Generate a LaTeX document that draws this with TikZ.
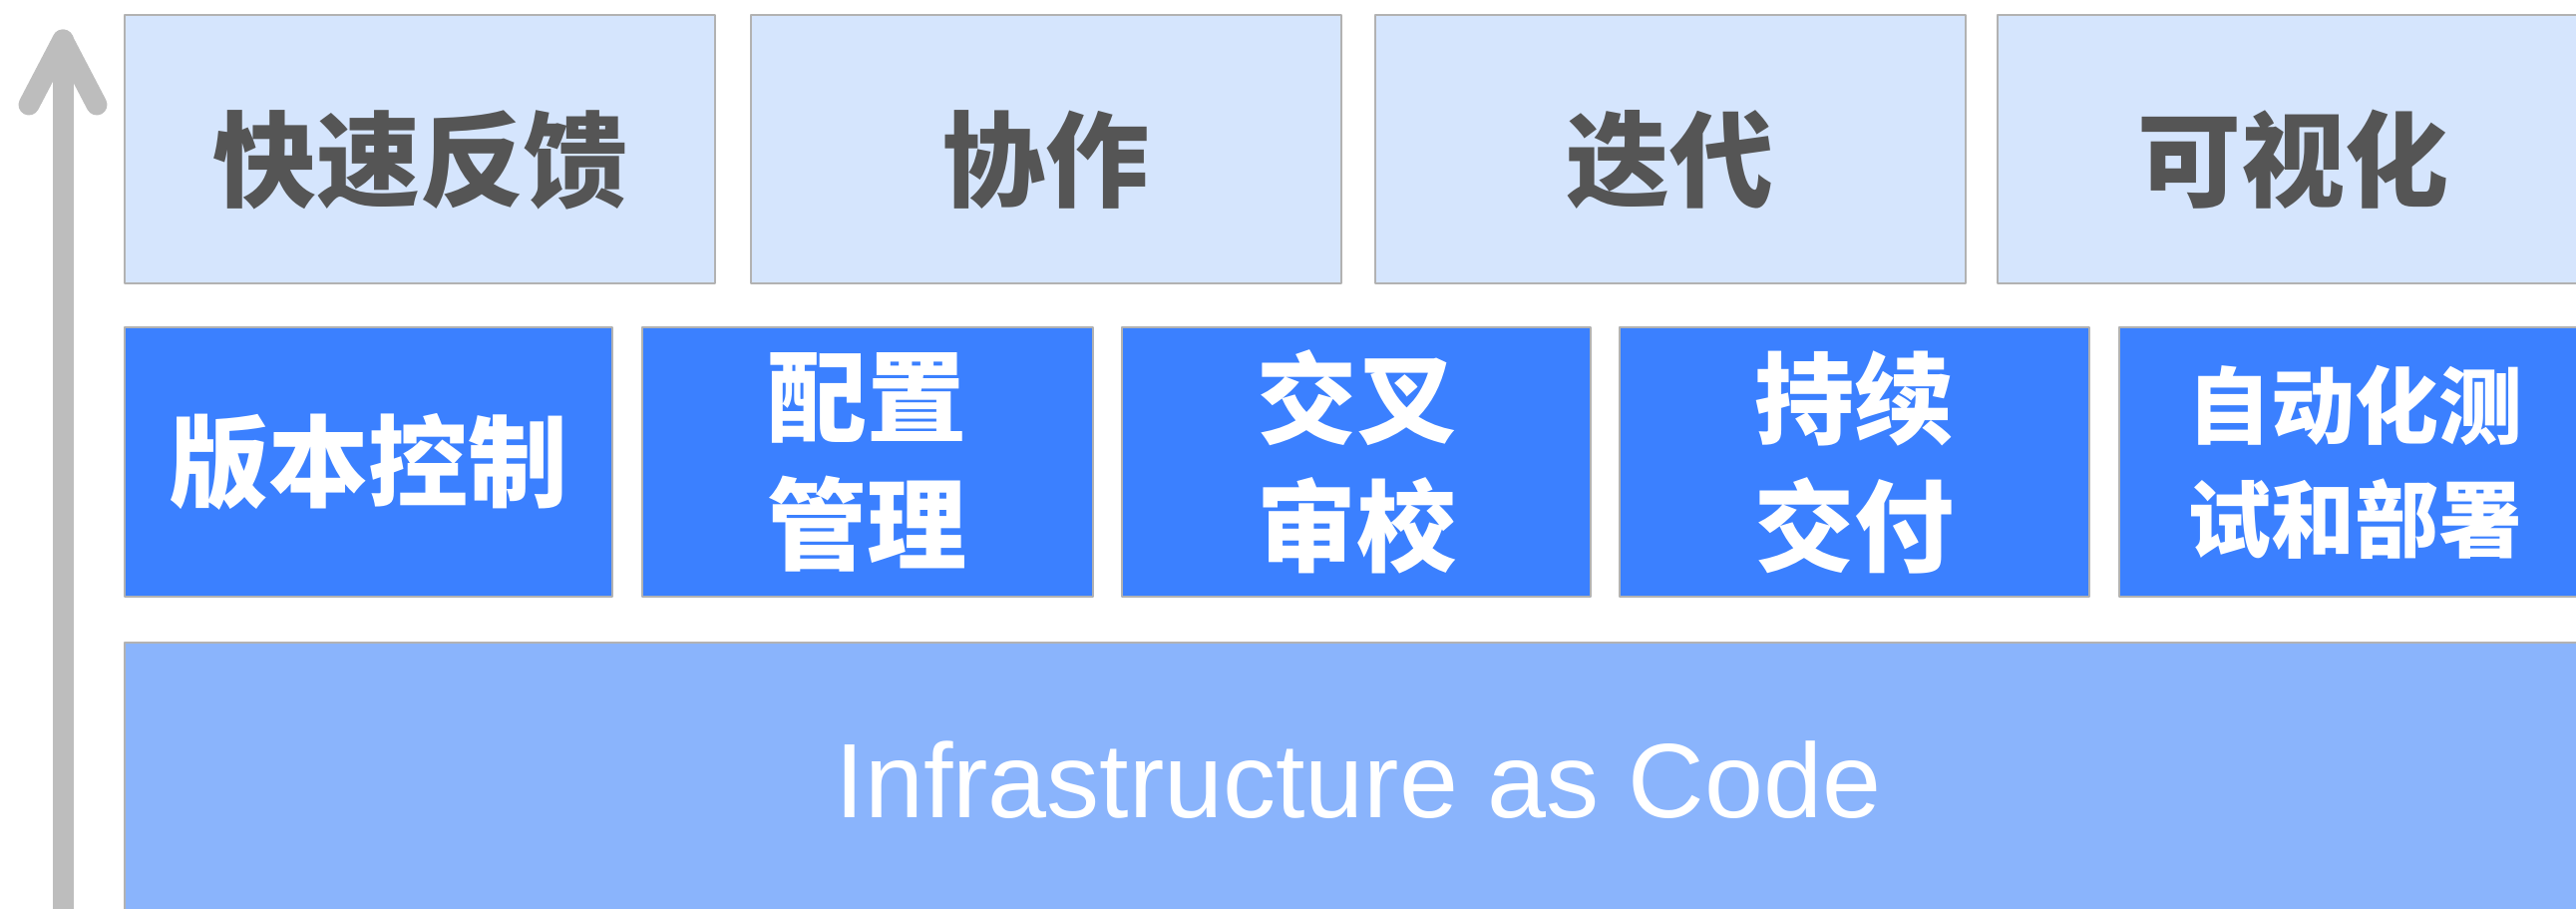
\documentclass[tikz,border=0pt]{standalone}
\usepackage{fontspec}
\setmainfont{Liberation Sans}
\newfontfamily\cjk{Noto Sans CJK SC}
\begin{document}
\begin{tikzpicture}[x=0.5pt,y=-0.5pt,line join=round,line cap=round]
        \definecolor{pale_blue}{RGB}{213,229,253}
        \definecolor{box_blue}{RGB}{59,128,255}
        \definecolor{soft_blue}{RGB}{138,180,252}
        \definecolor{edge_gray}{RGB}{178,178,178}
        \definecolor{arrow_gray}{RGB}{189,189,189}
        \definecolor{ink_gray}{RGB}{85,85,85}
        \tikzset{
                top_box/.style={draw=edge_gray,line width=1pt,fill=pale_blue,text=ink_gray,inner sep=0pt,
                        text height=52pt,text depth=2.4pt,
                        minimum width=296pt,minimum height=134.5pt,font=\cjk\bfseries\fontsize{52}{60}\selectfont},
                mid_box/.style={draw=edge_gray,line width=1pt,fill=box_blue,text=white,inner sep=0pt,align=center,
                        minimum height=135pt,font=\cjk\bfseries\fontsize{50}{64}\selectfont},
                base_box/.style={draw=edge_gray,line width=1pt,fill=soft_blue,text=white,inner sep=0pt,
                        font=\fontsize{53}{60}\selectfont},
                axis_line/.style={arrow_gray,line width=10.5pt}
        }
        \useasboundingbox (0,0) rectangle (2583,910);
        \clip (0,0) rectangle (2583,910);
        \path
        (63,910) coordinate (axis_foot)
        (63,40) coordinate (axis_tip)
        (29,105) coordinate (barb_l)
        (97,105) coordinate (barb_r)
        ;
        % top row
        \node[top_box] (kuai_fankui) at (421,149.5) {快速反馈};
        \node[top_box] (xie_zuo) at (1048.5,149.5) {协作};
        \node[top_box] (die_dai) at (1674.5,149.5) {迭代};
        \node[top_box] (ke_shihua) at (2299,149.5) {可视化};
        % middle row
        \node[mid_box,minimum width=244.5pt] (ban_ben) at (369.5,463) {版本控制};
        \node[mid_box,minimum width=226pt] (pei_zhi) at (869.5,463) {配置\\管理};
        \node[mid_box,minimum width=235pt] (jiao_cha) at (1360,463) {交叉\\审校};
        \node[mid_box,minimum width=235.5pt] (chi_xu) at (1859.5,463) {持续\\交付};
        \node[mid_box,minimum width=236pt,font=\cjk\bfseries\fontsize{42}{57}\selectfont] (zi_dong) at (2361,463) {自动化测\\试和部署};
        % base
        \node[base_box,minimum width=1237pt,minimum height=138pt] (iac) at (1362,782) {Infrastructure as Code};
        % axis
        \draw[axis_line] (axis_foot) -- (axis_tip);
        \draw[axis_line] (barb_l) -- (axis_tip) -- (barb_r);
\end{tikzpicture}
\end{document}
